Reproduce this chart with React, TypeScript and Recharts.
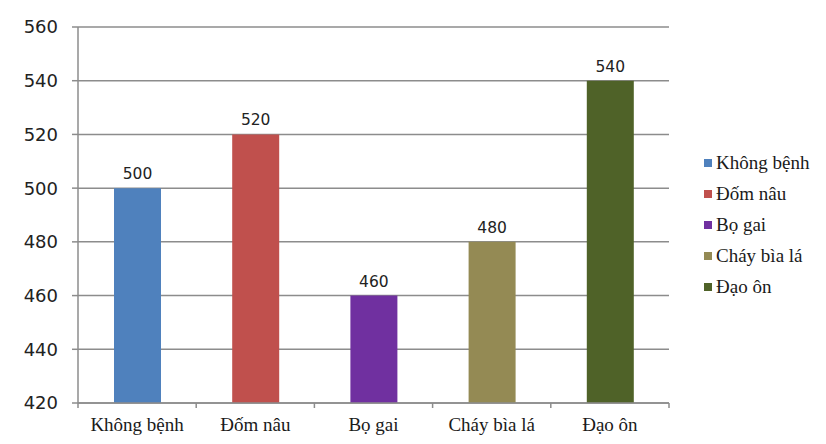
import React from 'react'
import { BarChart, Bar, XAxis, YAxis, CartesianGrid, Cell, LabelList, Legend } from 'recharts'

const CATEGORIES = ['Không bệnh', 'Đốm nâu', 'Bọ gai', 'Cháy bìa lá', 'Đạo ôn']
const VALUES = [500, 520, 460, 480, 540]
const COLORS = ['#4F81BD', '#C0504D', '#7030A0', '#948A54', '#4F6228']
const Y_TICKS = [420, 440, 460, 480, 500, 520, 540, 560]

const GRID = '#8c8c8c'
const SERIF = '"Liberation Serif", "Times New Roman", serif'
const SANS = '"DejaVu Sans", Verdana, sans-serif'

const data = CATEGORIES.map((name, i) => ({ name, value: VALUES[i] }))

// category label + boundary tick marks (Excel style)
const CatTick = (props: any) => {
  const { x, y, payload, index } = props
  const off = payload?.offset ?? 0
  const last = index === CATEGORIES.length - 1
  return (
    <g>
      <line x1={x - off} x2={x - off} y1={y} y2={y + 5} stroke={GRID} strokeWidth={1.5} />
      {last && <line x1={x + off} x2={x + off} y1={y} y2={y + 5} stroke={GRID} strokeWidth={1.5} />}
      <text x={x} y={y + 28} textAnchor="middle" fill="#1a1a1a" fontFamily={SERIF} fontSize={19}>
        {payload.value}
      </text>
    </g>
  )
}

const LegendBox = () => (
  <div style={{ fontFamily: SERIF, fontSize: 19, color: '#1a1a1a', lineHeight: '31px' }}>
    {CATEGORIES.map((c, i) => (
      <div key={c} style={{ display: 'flex', alignItems: 'center', height: 31, fontFamily: SERIF }}>
        <span style={{ width: 8, height: 8, background: COLORS[i], marginRight: 4, display: 'inline-block' }} />
        <span style={{ fontFamily: SERIF }}>{c}</span>
      </div>
    ))}
  </div>
)

export default function App() {
  return (
    <div style={{ position: 'relative', width: 826, height: 444, marginLeft: -8, marginTop: -8, background: '#fff', fontFamily: SERIF }}>
      <div style={{
        position: 'absolute', left: 6, top: 4, right: 0, bottom: 0,
        borderTop: `2px solid ${GRID}`, borderLeft: `2px solid ${GRID}`,
      }} />
      <BarChart width={826} height={444} data={data} margin={{ top: 27, right: 157, bottom: 0, left: 0 }}>
        <CartesianGrid vertical={false} stroke={GRID} strokeWidth={1.5} />
        <XAxis
          dataKey="name"
          height={41}
          tickSize={0}
          tickMargin={0}
          tickLine={false}
          axisLine={{ stroke: GRID, strokeWidth: 1.5 }}
          tick={<CatTick />}
          interval={0}
        />
        <YAxis
          width={78}
          domain={[420, 560]}
          ticks={Y_TICKS}
          interval={0}
          tickSize={6}
          tickMargin={14}
          axisLine={{ stroke: GRID, strokeWidth: 1.5 }}
          tickLine={{ stroke: GRID, strokeWidth: 1.5 }}
          tick={{ fill: '#222', fontSize: 18, fontFamily: SANS }}
          allowDataOverflow
        />
        <Legend
          layout="horizontal"
          verticalAlign="middle"
          align="center"
          content={<LegendBox />}
          wrapperStyle={{ left: 704, top: 147, width: 'auto', fontFamily: SERIF }}
        />
        <Bar dataKey="value" barSize={47} isAnimationActive={false}>
          {data.map((d, i) => <Cell key={d.name} fill={COLORS[i]} />)}
          <LabelList dataKey="value" position="top" offset={9} fill="#222" fontSize={15.5} fontFamily={SANS} />
        </Bar>
      </BarChart>
    </div>
  )
}
